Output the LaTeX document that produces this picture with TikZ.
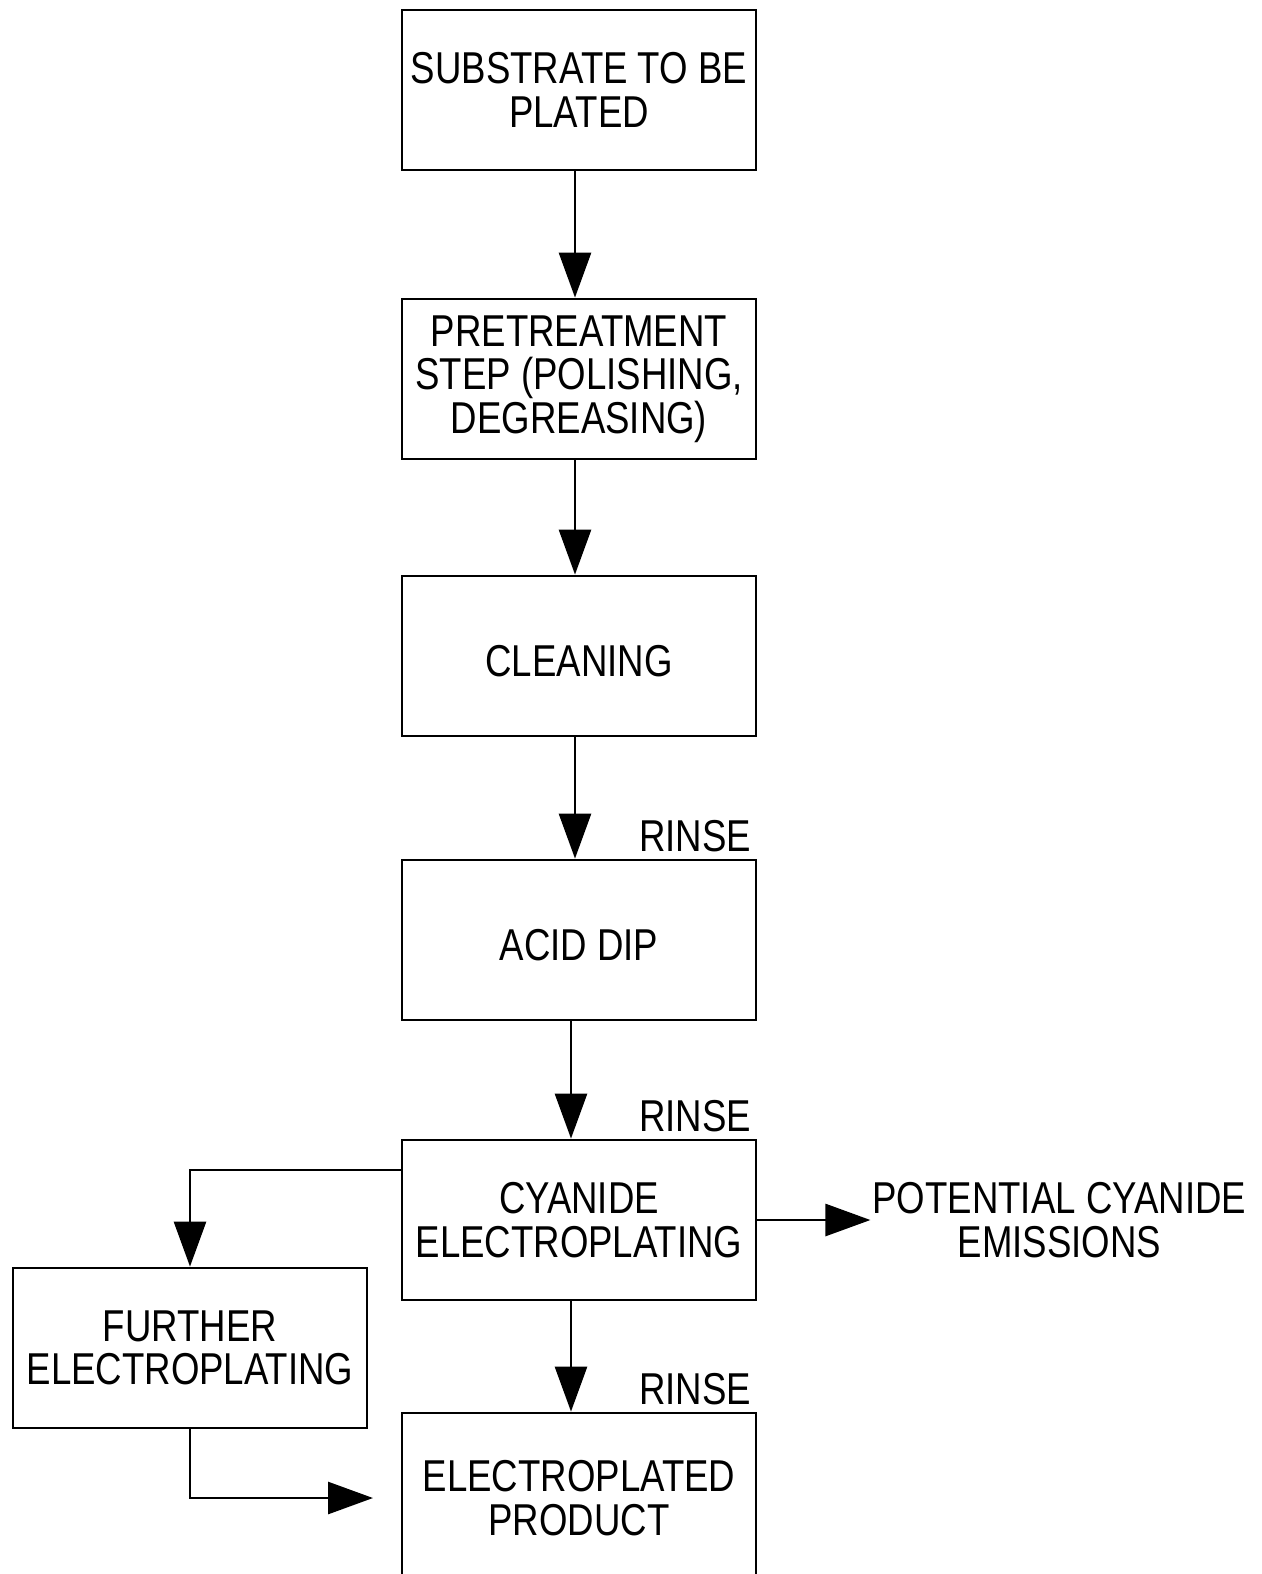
\documentclass[tikz,border=0pt]{standalone}
\usepackage{fontspec}
\setmainfont{Liberation Sans}[FakeStretch=0.82]
\usetikzlibrary{arrows.meta}
\usetikzlibrary{positioning}
\tikzset{
  stage/.style={draw, line width=1.6pt, minimum width=7.08cm, minimum height=3.2cm, align=center, inner sep=0pt,
    execute at begin node=\rule{0pt}{0.82cm}},
  flow/.style={-{Triangle[length=0.9cm,width=0.64cm]}, line width=1.6pt},
}
\newcommand{\rinse}[2]{\node[anchor=south east, inner sep=0pt] (#1) at ([xshift=-0.12cm, yshift=0.12cm]#2.north east) {RINSE}}

\begin{document}
\begin{tikzpicture}[font=\fontsize{25.4}{24.8}\selectfont]
    \useasboundingbox (0,0) rectangle (25.24,-31.48);
    \node[stage] (sub) at (11.58,-1.8) {SUBSTRATE TO BE\\PLATED};
    \node[stage] (pre) at (11.58,-7.58) {PRETREATMENT\\STEP (POLISHING,\\DEGREASING)};
    \node[stage] (clean) at (11.58,-13.12) {CLEANING};
    \node[stage] (acid) at (11.58,-18.8) {ACID DIP};
    \node[stage] (cyan) at (11.58,-24.4) {CYANIDE\\ELECTROPLATING};
    \node[stage] (fur) at (3.8,-26.96) {FURTHER\\ELECTROPLATING};
    \node[stage, minimum height=3.4cm] (prod) at (11.58,-29.96) {ELECTROPLATED\\PRODUCT};
    \node[right=2.26cm of cyan, align=center, inner sep=1pt, execute at begin node=\rule{0pt}{0.82cm}] (emis) {POTENTIAL CYANIDE\\EMISSIONS};
    \rinse{rinseA}{acid};
    \rinse{rinseB}{cyan};
    \rinse{rinseC}{prod};
    % main line
    \draw[flow] ([xshift=-0.08cm]sub.south) -- ([xshift=-0.08cm]pre.north);
    \draw[flow] ([xshift=-0.08cm]pre.south) -- ([xshift=-0.08cm]clean.north);
    \draw[flow] ([xshift=-0.08cm]clean.south) -- ([xshift=-0.08cm]acid.north);
    \draw[flow] ([xshift=-0.16cm]acid.south) -- ([xshift=-0.16cm]cyan.north);
    \draw[flow] ([xshift=-0.16cm]cyan.south) -- ([xshift=-0.16cm]prod.north);
    \draw[flow] (cyan.east) -- (emis.west);
    % side branch
    \coordinate (furend) at (7.46,-29.96);
    \draw[flow] ([yshift=1cm]cyan.west) -| (fur.north);
    \draw[flow] (fur.south) |- (furend);
\end{tikzpicture}
\end{document}
